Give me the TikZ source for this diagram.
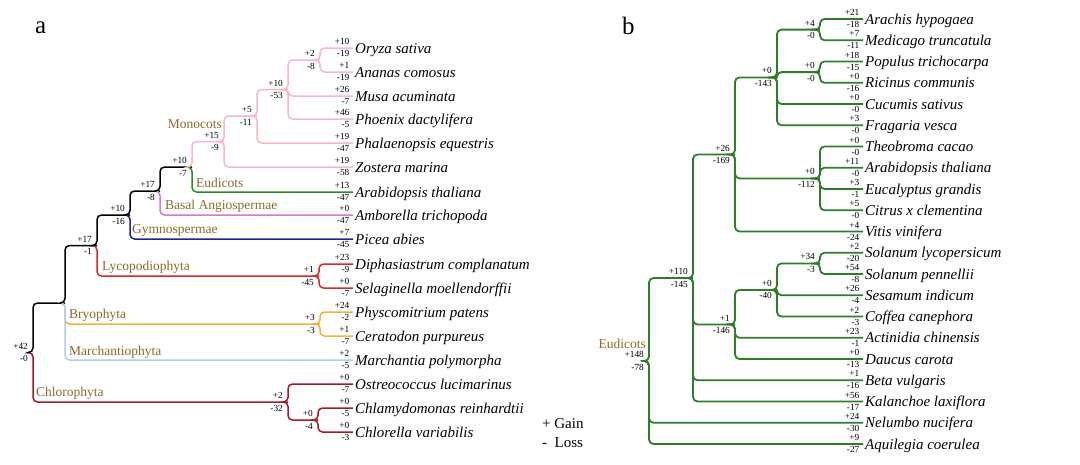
\documentclass[tikz,border=0pt]{standalone}
\usepackage{fontspec}
\setmainfont{Liberation Serif}
\definecolor{cladetext}{RGB}{140,105,40}
\definecolor{pinkc}{RGB}{245,185,195}
\definecolor{greena}{RGB}{40,140,40}
\definecolor{greenb}{RGB}{45,125,45}
\definecolor{orchidc}{RGB}{215,120,215}
\definecolor{navyc}{RGB}{30,35,150}
\definecolor{redc}{RGB}{215,40,45}
\definecolor{orangec}{RGB}{240,180,60}
\definecolor{lbluec}{RGB}{170,210,230}
\definecolor{dredc}{RGB}{165,25,40}
\tikzset{
  num/.style={font=\fontsize{9.3}{10}\selectfont, anchor=east, inner sep=0pt},
  sp/.style={font=\fontsize{15}{16}\selectfont\itshape, anchor=base west, inner sep=0pt},
  clade/.style={font=\fontsize{13.5}{14}\selectfont, text=cladetext, inner sep=0pt},
  br/.style={rounded corners=4.5pt, line width=1.5pt},
  brb/.style={rounded corners=4.5pt, line width=1.8pt, greenb},
  panel/.style={font=\fontsize{25}{26}\selectfont, anchor=base west, inner sep=0pt},
  legend/.style={font=\fontsize{15}{16}\selectfont, anchor=base west, inner sep=0pt}
}
\newcommand\mkleaf[6]{%
  \coordinate (#1) at (#2,#3);
  \node[sp] (#1-t) at ([xshift=2pt,yshift=-5pt]#1) {#4};
  \node[num] (#1-g) at ([xshift=-3.5pt,yshift=6.5pt]#1) {#5};
  \node[num] (#1-l) at ([xshift=-3.5pt,yshift=-5.5pt]#1) {#6};
}
\newcommand\mknode[5]{%
  \coordinate (#1) at (#2,#3);
  \node[num] (#1-g) at ([xshift=-5pt,yshift=6.5pt]#1) {#4};
  \node[num] (#1-l) at ([xshift=-5pt,yshift=-6pt]#1) {#5};
}
\newcommand\conn[3]{\draw[br,#1] ([xshift=-4pt]#2) -- (#2) |- (#3);}
\newcommand\connb[2]{\draw[brb] ([xshift=-4pt]#1) -- (#1) |- (#2);}
\begin{document}
\begin{tikzpicture}[x=1pt,y=-1pt]
\useasboundingbox (0,0) rectangle (1080,464);
\fill[white] (0,0) rectangle (1080,464);
% ---------- panel a ----------
\node[panel] (pa) at (35,33) {a};
\mkleaf{L1}{353}{48}{Oryza sativa}{+10}{-19}
\mkleaf{L2}{353}{72}{Ananas comosus}{+1}{-19}
\mkleaf{L3}{353}{96}{Musa acuminata}{+26}{-7}
\mkleaf{L4}{353}{119}{Phoenix dactylifera}{+46}{-5}
\mkleaf{L5}{353}{143}{Phalaenopsis equestris}{+19}{-47}
\mkleaf{L6}{353}{167}{Zostera marina}{+19}{-58}
\mkleaf{L7}{353}{192}{Arabidopsis thaliana}{+13}{-47}
\mkleaf{L8}{353}{215}{Amborella trichopoda}{+0}{-47}
\mkleaf{L9}{353}{239}{Picea abies}{+7}{-45}
\mkleaf{L10}{353}{264}{Diphasiastrum complanatum}{+23}{-9}
\mkleaf{L11}{353}{288}{Selaginella moellendorffii}{+0}{-7}
\mkleaf{L12}{353}{312}{Physcomitrium patens}{+24}{-2}
\mkleaf{L13}{353}{336}{Ceratodon purpureus}{+1}{-7}
\mkleaf{L14}{353}{360}{Marchantia polymorpha}{+2}{-5}
\mkleaf{L15}{353}{384}{Ostreococcus lucimarinus}{+0}{-7}
\mkleaf{L16}{353}{408}{Chlamydomonas reinhardtii}{+0}{-5}
\mkleaf{L17}{353}{432}{Chlorella variabilis}{+0}{-3}
\mknode{a1}{320}{60}{+2}{-8}
\mknode{a2}{288}{89.5}{+10}{-53}
\mknode{a3}{257}{116}{+5}{-11}
\mknode{a4}{224}{141.5}{+15}{-9}
\mknode{a5}{192}{167}{+10}{-7}
\mknode{a6}{160}{191}{+17}{-8}
\mknode{a7}{130}{215}{+10}{-16}
\mknode{a8}{319}{276}{+1}{-45}
\mknode{a9}{97}{245.5}{+17}{-1}
\mknode{a10}{320}{324}{+3}{-3}
\coordinate (a11) at (65,303);
\mknode{a12}{318}{420}{+0}{-4}
\mknode{a13}{288}{402}{+2}{-32}
\mknode{a14}{33}{352.5}{+42}{-0}
\conn{dredc}{a14}{a13}
\conn{black}{a14}{a11}
\conn{orangec}{a11}{a10}
\conn{lbluec}{a11}{L14}
\conn{black}{a11}{a9}
\conn{redc}{a9}{a8}
\conn{black}{a9}{a7}
\conn{navyc}{a7}{L9}
\conn{black}{a7}{a6}
\conn{orchidc}{a6}{L8}
\conn{black}{a6}{a5}
\conn{greena}{a5}{L7}
\conn{pinkc}{a5}{a4}
\conn{pinkc}{a4}{L6}
\conn{pinkc}{a4}{a3}
\conn{pinkc}{a3}{L5}
\conn{pinkc}{a3}{a2}
\conn{pinkc}{a2}{L4}
\conn{pinkc}{a2}{L3}
\conn{pinkc}{a2}{a1}
\conn{pinkc}{a1}{L1}
\conn{pinkc}{a1}{L2}
\conn{redc}{a8}{L10}
\conn{redc}{a8}{L11}
\conn{orangec}{a10}{L12}
\conn{orangec}{a10}{L13}
\conn{dredc}{a13}{L15}
\conn{dredc}{a13}{a12}
\conn{dredc}{a12}{L16}
\conn{dredc}{a12}{L17}
\node[clade, anchor=east] (cMono) at (222,124.5) {Monocots};
\node[clade, anchor=west] (cEud) at (196,183) {Eudicots};
\node[clade, anchor=west] (cBasal) at (165,206) {Basal Angiospermae};
\node[clade, anchor=west] (cGym) at (132,230) {Gymnospermae};
\node[clade, anchor=west] (cLyc) at (102,267) {Lycopodiophyta};
\node[clade, anchor=west] (cBry) at (69,315) {Bryophyta};
\node[clade, anchor=west] (cMar) at (69,352) {Marchantiophyta};
\node[clade, anchor=west] (cChl) at (36,393) {Chlorophyta};
\node[legend] (lgain) at (542,428) {+ Gain};
\node[legend] (lloss) at (542,447) {-\ \ Loss};
% ---------- panel b ----------
\node[panel] (pb) at (622,34) {b};
\mkleaf{B1}{863}{19}{Arachis hypogaea}{+21}{-18}
\mkleaf{B2}{863}{40.25}{Medicago truncatula}{+7}{-11}
\mkleaf{B3}{863}{61.5}{Populus trichocarpa}{+18}{-15}
\mkleaf{B4}{863}{82.75}{Ricinus communis}{+0}{-16}
\mkleaf{B5}{863}{104}{Cucumis sativus}{+0}{-0}
\mkleaf{B6}{863}{125.25}{Fragaria vesca}{+3}{-0}
\mkleaf{B7}{863}{146.5}{Theobroma cacao}{+0}{-0}
\mkleaf{B8}{863}{167.75}{Arabidopsis thaliana}{+11}{-0}
\mkleaf{B9}{863}{189}{Eucalyptus grandis}{+3}{-1}
\mkleaf{B10}{863}{210.25}{Citrus x clementina}{+5}{-0}
\mkleaf{B11}{863}{231.5}{Vitis vinifera}{+4}{-24}
\mkleaf{B12}{863}{252.75}{Solanum lycopersicum}{+2}{-20}
\mkleaf{B13}{863}{274}{Solanum pennellii}{+54}{-8}
\mkleaf{B14}{863}{295.25}{Sesamum indicum}{+26}{-4}
\mkleaf{B15}{863}{316.5}{Coffea canephora}{+2}{-3}
\mkleaf{B16}{863}{337.75}{Actinidia chinensis}{+23}{-1}
\mkleaf{B17}{863}{359}{Daucus carota}{+0}{-13}
\mkleaf{B18}{863}{380.25}{Beta vulgaris}{+1}{-16}
\mkleaf{B19}{863}{401.5}{Kalanchoe laxiflora}{+56}{-17}
\mkleaf{B20}{863}{422.75}{Nelumbo nucifera}{+24}{-30}
\mkleaf{B21}{863}{444}{Aquilegia coerulea}{+9}{-27}
\mknode{b1}{820}{29.6}{+4}{-0}
\mknode{b2}{820}{72.1}{+0}{-0}
\mknode{b3}{777}{77.4}{+0}{-143}
\mknode{b4}{820}{178.4}{+0}{-112}
\mknode{b5}{735}{154.5}{+26}{-169}
\mknode{b6}{820}{263.4}{+34}{-3}
\mknode{b7}{777}{289.9}{+0}{-40}
\mknode{b8}{735}{324.5}{+1}{-146}
\mknode{b9}{693}{278}{+110}{-145}
\mknode{b10}{649}{361}{+148}{-78}
\connb{b10}{b9}
\connb{b10}{B20}
\connb{b10}{B21}
\connb{b9}{b5}
\connb{b9}{b8}
\connb{b9}{B18}
\connb{b9}{B19}
\connb{b5}{b3}
\connb{b5}{b4}
\connb{b5}{B11}
\connb{b3}{b1}
\connb{b3}{b2}
\connb{b3}{B5}
\connb{b3}{B6}
\connb{b1}{B1}
\connb{b1}{B2}
\connb{b2}{B3}
\connb{b2}{B4}
\connb{b4}{B7}
\connb{b4}{B8}
\connb{b4}{B9}
\connb{b4}{B10}
\connb{b8}{b7}
\connb{b8}{B16}
\connb{b8}{B17}
\connb{b7}{b6}
\connb{b7}{B14}
\connb{b7}{B15}
\connb{b6}{B12}
\connb{b6}{B13}
\node[clade, anchor=east] (cEudB) at (646,344) {Eudicots};
\end{tikzpicture}
\end{document}
